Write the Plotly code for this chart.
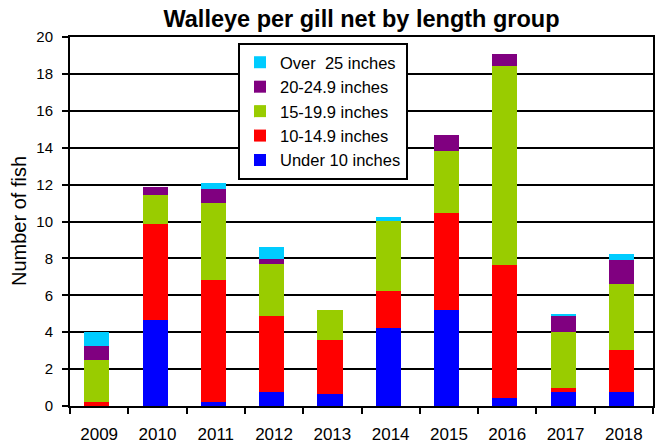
import plotly.graph_objects as go

years = ["2009", "2010", "2011", "2012", "2013", "2014", "2015", "2016", "2017", "2018"]
under10 = [0.0, 4.67, 0.23, 0.78, 0.67, 4.25, 5.20, 0.45, 0.78, 0.78]
len10_14 = [0.23, 5.19, 6.60, 4.10, 2.91, 1.98, 5.28, 7.21, 0.21, 2.26]
len15_19 = [2.26, 1.58, 4.19, 2.83, 1.62, 3.80, 3.34, 10.79, 3.04, 3.55]
len20_24 = [0.78, 0.45, 0.74, 0.26, 0.0, 0.0, 0.87, 0.63, 0.85, 1.32]
over25 = [0.74, 0.0, 0.34, 0.65, 0.0, 0.21, 0.0, 0.0, 0.11, 0.31]

series = [
    ("Under 10 inches", under10, "#0000FF"),
    ("10-14.9 inches", len10_14, "#FF0000"),
    ("15-19.9 inches", len15_19, "#99CC00"),
    ("20-24.9 inches", len20_24, "#800080"),
    ("Over  25 inches", over25, "#00CCFF"),
]

FONT = "Liberation Sans, Arial, sans-serif"

fig = go.Figure()
for name, vals, color in series:
    fig.add_trace(go.Bar(
        x=years, y=vals, name=name,
        marker=dict(color=color, line=dict(width=0)),
        width=0.43, offset=-0.255,
    ))

fig.update_layout(
    width=660, height=445,
    barmode="stack",
    paper_bgcolor="white", plot_bgcolor="white",
    margin=dict(l=70, r=7, t=37, b=39, autoexpand=False),
    font=dict(family=FONT, color="black"),
    title=dict(
        text="<b>Walleye per gill net by length group</b>",
        font=dict(size=23.5, family=FONT, color="black"),
        x=(70 + 653) / 2 / 660, xanchor="center",
        y=1 - 19 / 445, yanchor="middle",
    ),
    legend=dict(
        x=(238 - 70) / 583, y=(406 - 43) / 369, xanchor="left", yanchor="top",
        traceorder="reversed",
        bordercolor="black", borderwidth=2, bgcolor="white",
        font=dict(size=16.5, family=FONT),
        tracegroupgap=0,
    ),
    xaxis=dict(
        type="category", automargin=False,
        showline=True, linecolor="black", linewidth=2, mirror=True,
        ticks="outside", tickson="boundaries", ticklen=6, tickwidth=2, tickcolor="black",
        tickfont=dict(size=17, family=FONT),
        ticklabelstandoff=12,
        showgrid=False,
    ),
    yaxis=dict(
        range=[0, 20], dtick=2, automargin=False,
        showline=True, linecolor="black", linewidth=2, mirror=True,
        ticks="outside", ticklen=6, tickwidth=2, tickcolor="black",
        tickfont=dict(size=15, family=FONT),
        ticklabelstandoff=6,
        showgrid=True, gridcolor="black", gridwidth=2,
        zeroline=False,
    ),
    annotations=[dict(
        text="Number of fish", textangle=-90,
        xref="paper", yref="paper", x=0, y=0.5,
        xanchor="center", yanchor="middle", xshift=-51.5,
        showarrow=False, font=dict(size=20, family=FONT, color="black"),
    )],
)

fig.write_html("out.html", config={"displayModeBar": False},
               post_script="document.body.style.margin='0';")
